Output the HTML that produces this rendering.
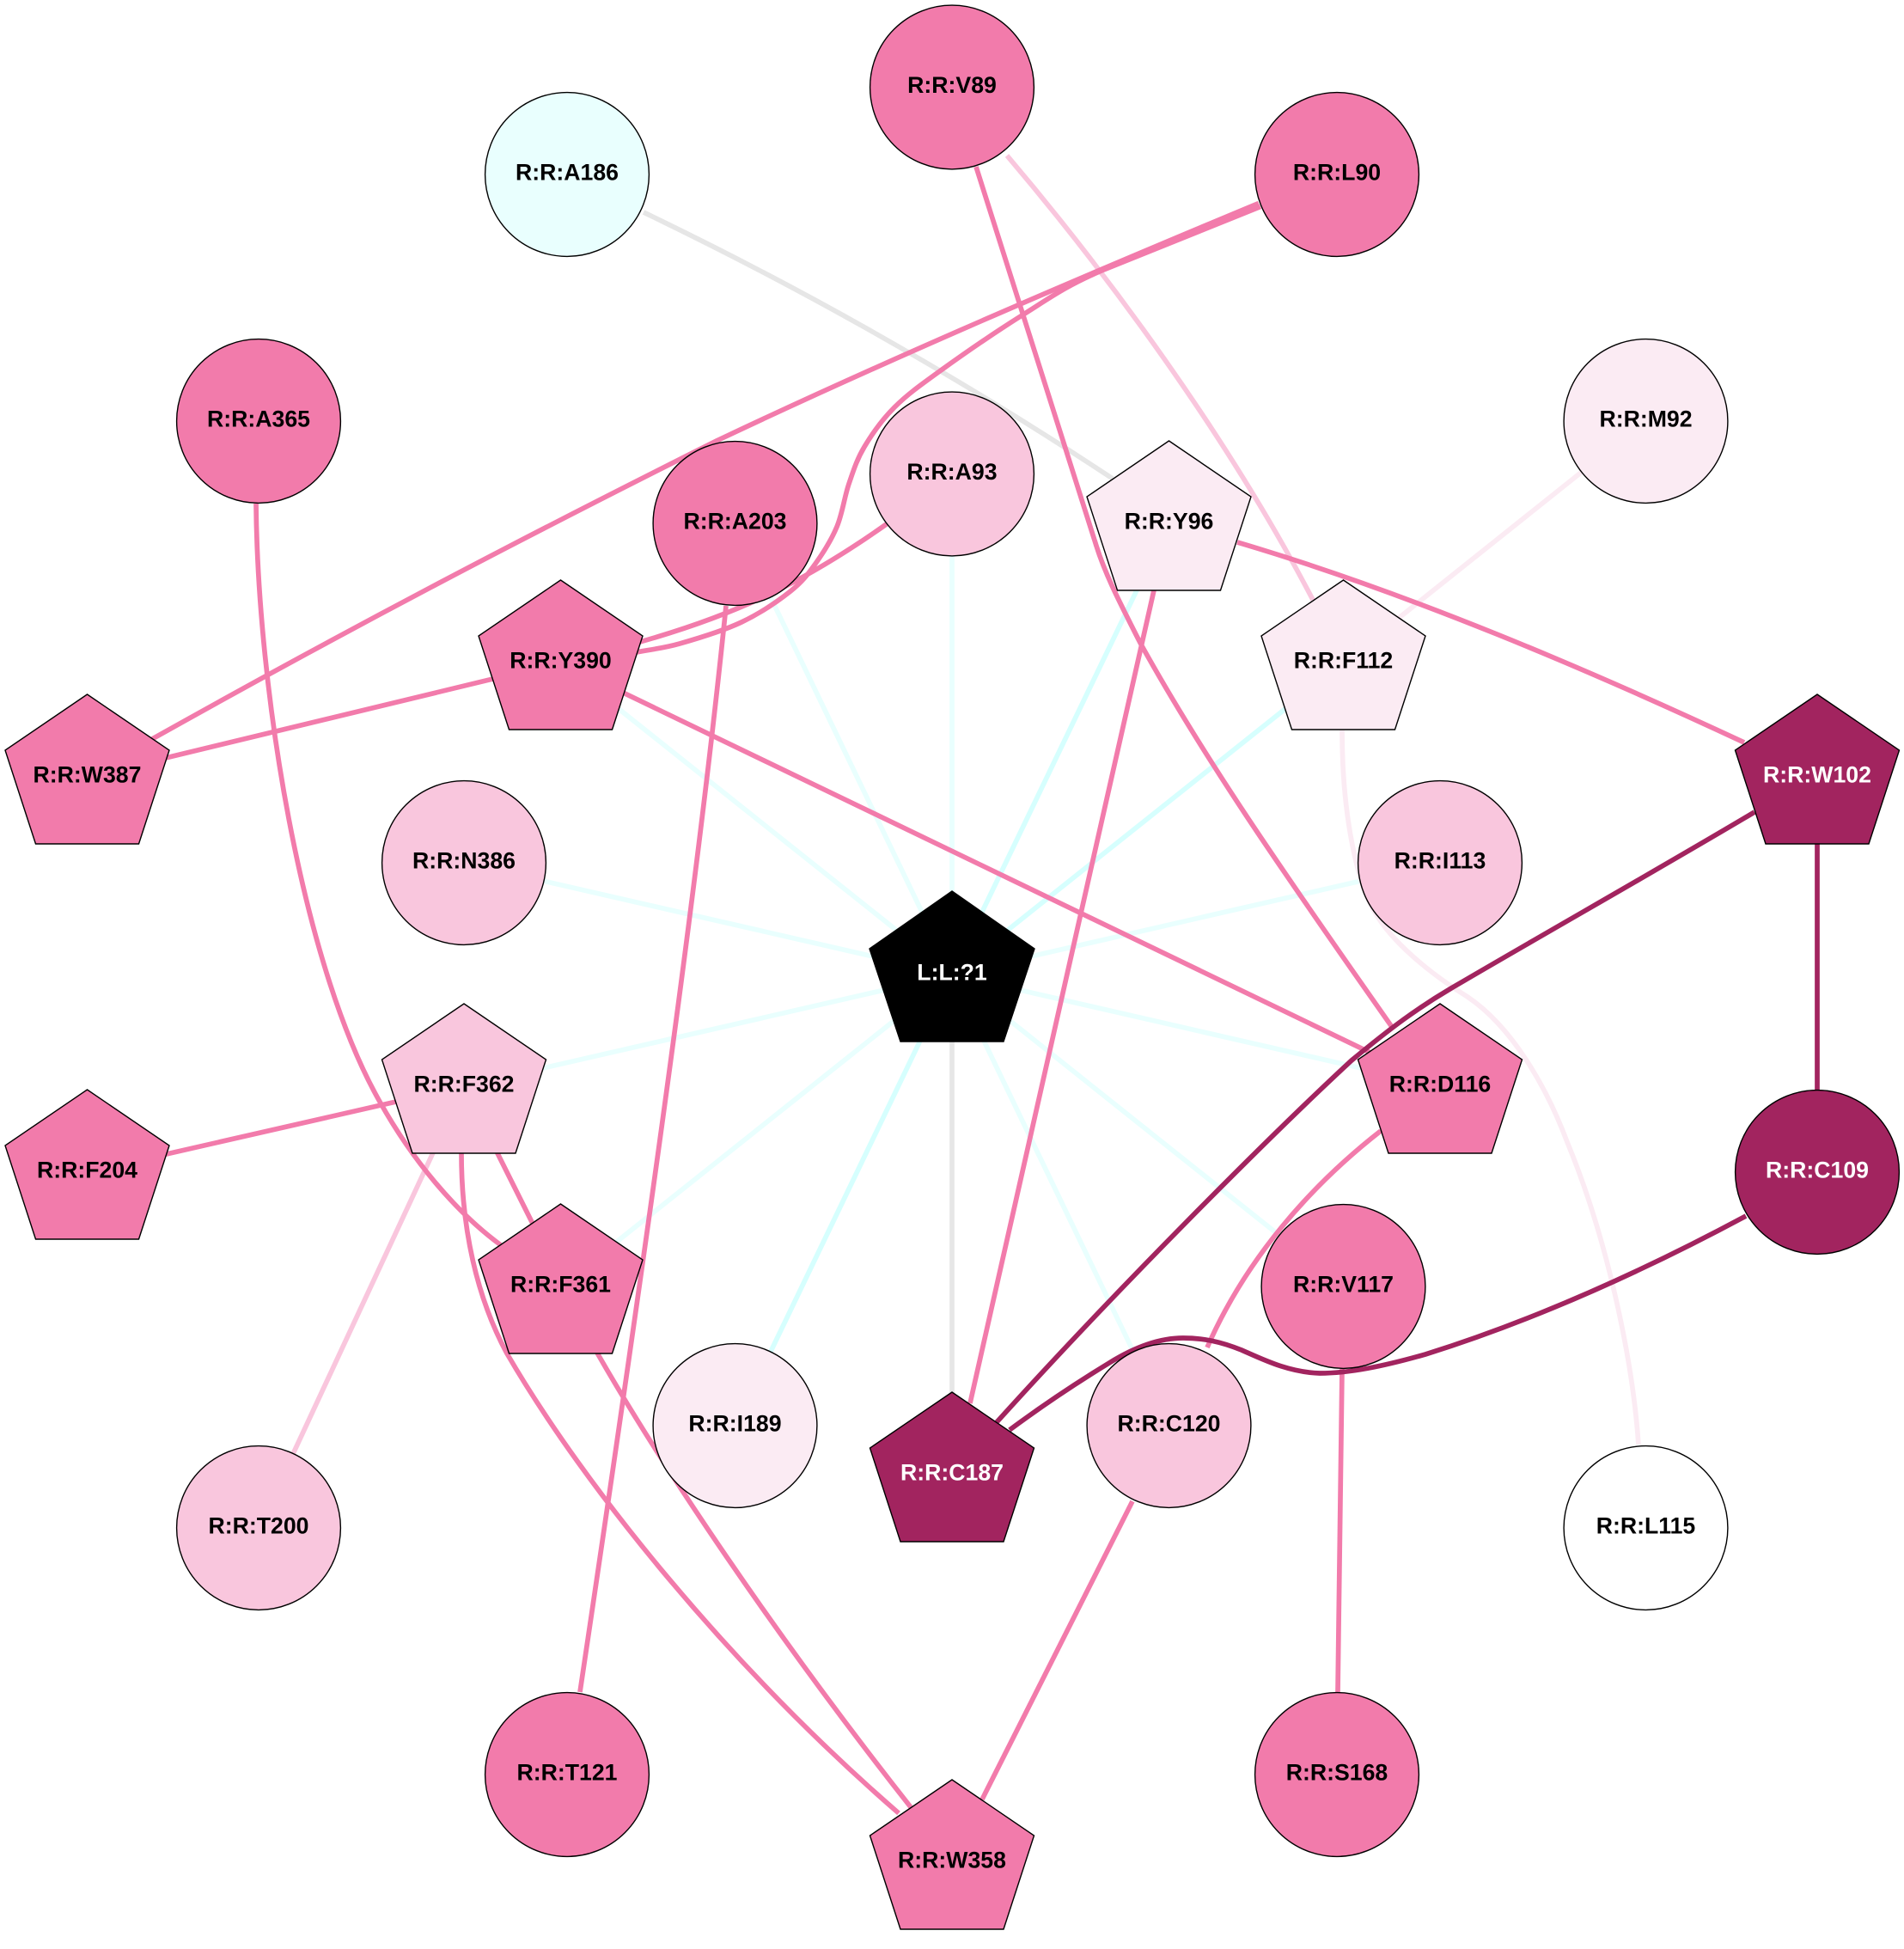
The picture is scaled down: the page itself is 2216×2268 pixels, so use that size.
<!DOCTYPE html>
<html>
<head>
<meta charset="utf-8">
<style>
html,body{margin:0;padding:0;background:#fff;}
svg{display:block;}
text{font-family:"Liberation Sans",Arial,sans-serif;font-weight:bold;font-size:26.67px;text-anchor:middle;fill:#000;}
text.w{fill:#fff;}
circle,polygon{stroke:#000;stroke-width:1.4;}
path,line{fill:none;stroke-width:5.7;}
.c{stroke:#E9FFFE;}
.s{stroke:#D6FFFE;}
.g{stroke:#E6E6E6;}
.p{stroke:#F27BAB;}
.l{stroke:#F9C6DD;}
.v{stroke:#FBEBF3;}
.d{stroke:#A2245F;}
</style>
</head>
<body>
<svg width="2216" height="2268" viewBox="0 0 2216 2268" xmlns="http://www.w3.org/2000/svg">
<rect width="2216" height="2268" fill="#fff"/>
<g>
<line class="c" x1="1108" y1="1134" x2="855.5" y2="609"/>
<line class="c" x1="1108" y1="1134" x2="1108" y2="551.5"/>
<line class="s" x1="1108" y1="1134" x2="1360.5" y2="609"/>
<line class="s" x1="1108" y1="1134" x2="1563.5" y2="771"/>
<line class="c" x1="1108" y1="1134" x2="652.5" y2="771"/>
<line class="c" x1="1108" y1="1134" x2="1676" y2="1004"/>
<line class="c" x1="1108" y1="1134" x2="540" y2="1004"/>
<line class="c" x1="1108" y1="1134" x2="540" y2="1264"/>
<line class="c" x1="1108" y1="1134" x2="652.5" y2="1497"/>
<line class="s" x1="1108" y1="1134" x2="855.5" y2="1659"/>
<line class="c" x1="1108" y1="1134" x2="1563.5" y2="1497"/>
<line class="c" x1="1108" y1="1134" x2="1360.5" y2="1659"/>
<line class="c" x1="1108" y1="1134" x2="1676" y2="1264"/>
<line class="g" x1="1108" y1="1134" x2="1108" y2="1716"/>
<path class="g" d="M749,247 Q1030,382 1295,557"/>
<path class="l" d="M1172,181 C1290,320 1430,510 1528,698"/>
<path class="v" d="M1915,490 L1563,771"/>
<path class="v" d="M1562,850 C1562,950 1580,1030 1601,1063 C1620,1095 1660,1130 1708,1160 C1760,1195 1800,1265 1824,1329 C1870,1440 1900,1580 1907,1681"/>
<path class="l" d="M540,1264 L301,1778"/>
<path class="p" d="M1136,194 L1275,632 C1285,665 1300,695 1327,748 C1400,880 1490,1010 1620,1195"/>
<path class="p" d="M1465,236.5 C1250,326 1030,420 834,513 C600,630 400,735 177,860"/>
<path class="p" d="M1467,240.5 L1282,315 C1240,333 1221.8,346.7 1191,366 C1160.2,385.3 1120,413 1095,431 C1070,449 1055.8,459.2 1041,474 C1026.2,488.8 1014.8,505.2 1006,520 C997.2,534.8 993.3,547.5 988,563 C982.7,578.5 980.5,597.5 974,613 C967.5,628.5 958,643.5 949,656 C940,668.5 934.3,676.7 920,688 C905.7,699.3 884.5,713.8 863,724 C841.5,734.2 811.3,743.2 791,749 C770.7,754.8 749,757 741,759"/>
<path class="p" d="M1033,609 C940,675 860,715 741,748"/>
<path class="p" d="M652.5,771 L101.5,904"/>
<path class="p" d="M652.5,771 L1676,1264"/>
<path class="p" d="M845,705 C815,1000 760,1400 675,1969"/>
<path class="p" d="M298,586 C300,800 350,1120 442,1282 C480,1350 530,1410 583,1449"/>
<path class="p" d="M540,1264 L101.5,1364"/>
<path class="p" d="M540,1264 L696,1576 C770,1705 900,1900 1060,2103"/>
<path class="p" d="M537,1342 C537,1430 555,1510 590,1575 C680,1730 850,1940 1046,2110"/>
<path class="p" d="M1318,1747 L1143,2094"/>
<path class="p" d="M1607,1316 C1525,1380 1450,1465 1405,1568"/>
<path class="p" d="M1562,1593 L1557,1969"/>
<path class="p" d="M1440,631 C1640,690 1850,780 2030,864"/>
<path class="p" d="M1343,687 L1129,1633"/>
<path class="d" d="M2115,904 L2115,1364"/>
<path class="d" d="M2042,945 C1950,1000 1800,1085 1689,1150 C1650,1173 1620,1195 1573,1234 C1480,1320 1300,1500 1160,1655"/>
<path class="d" d="M2032,1415 C1920,1475 1790,1535 1659,1576 C1610,1590 1570,1598 1536,1598 C1500,1597 1470,1582 1445,1571 C1420,1561 1400,1557 1377,1557 C1350,1557 1320,1568 1291,1586 C1250,1611 1210,1638 1175,1664"/>
</g>
<g>
<circle cx="1108" cy="101.5" r="95.4" fill="#F27BAB"/><text x="1108" y="108">R:R:V89</text>
<circle cx="660" cy="203" r="95.4" fill="#E9FFFE"/><text x="660" y="209.5">R:R:A186</text>
<circle cx="1556" cy="203" r="95.4" fill="#F27BAB"/><text x="1556" y="209.5">R:R:L90</text>
<circle cx="301" cy="490" r="95.4" fill="#F27BAB"/><text x="301" y="496.5">R:R:A365</text>
<circle cx="1915.5" cy="490" r="95.4" fill="#FBEBF3"/><text x="1915.5" y="496.5">R:R:M92</text>
<circle cx="855.5" cy="609" r="95.4" fill="#F27BAB"/><text x="855.5" y="615.5">R:R:A203</text>
<circle cx="1108" cy="551.5" r="95.4" fill="#F9C6DD"/><text x="1108" y="558">R:R:A93</text>
<polygon transform="translate(1360.5,609)" points="0,-96 95.5,-31 60,78 -60,78 -95.5,-31" fill="#FBEBF3"/><text x="1360.5" y="615.5">R:R:Y96</text>
<polygon transform="translate(652.5,771)" points="0,-96 95.5,-31 60,78 -60,78 -95.5,-31" fill="#F27BAB"/><text x="652.5" y="777.5">R:R:Y390</text>
<polygon transform="translate(1563.5,771)" points="0,-96 95.5,-31 60,78 -60,78 -95.5,-31" fill="#FBEBF3"/><text x="1563.5" y="777.5">R:R:F112</text>
<polygon transform="translate(101.5,904)" points="0,-96 95.5,-31 60,78 -60,78 -95.5,-31" fill="#F27BAB"/><text x="101.5" y="910.5">R:R:W387</text>
<polygon transform="translate(2115,904)" points="0,-96 95.5,-31 60,78 -60,78 -95.5,-31" fill="#A2245F"/><text class="w" x="2115" y="910.5">R:R:W102</text>
<circle cx="540" cy="1004" r="95.4" fill="#F9C6DD"/><text x="540" y="1010.5">R:R:N386</text>
<circle cx="1676" cy="1004" r="95.4" fill="#F9C6DD"/><text x="1676" y="1010.5">R:R:I113</text>
<polygon transform="translate(1108,1134)" points="0,-97 96,-30 60,78 -60,78 -96,-30" fill="#000"/><text class="w" x="1108" y="1140.5">L:L:?1</text>
<polygon transform="translate(540,1264)" points="0,-96 95.5,-31 60,78 -60,78 -95.5,-31" fill="#F9C6DD"/><text x="540" y="1270.5">R:R:F362</text>
<polygon transform="translate(1676,1264)" points="0,-96 95.5,-31 60,78 -60,78 -95.5,-31" fill="#F27BAB"/><text x="1676" y="1270.5">R:R:D116</text>
<polygon transform="translate(101.5,1364)" points="0,-96 95.5,-31 60,78 -60,78 -95.5,-31" fill="#F27BAB"/><text x="101.5" y="1370.5">R:R:F204</text>
<circle cx="2115" cy="1364" r="95.4" fill="#A2245F"/><text class="w" x="2115" y="1370.5">R:R:C109</text>
<polygon transform="translate(652.5,1497)" points="0,-96 95.5,-31 60,78 -60,78 -95.5,-31" fill="#F27BAB"/><text x="652.5" y="1503.5">R:R:F361</text>
<circle cx="1563.5" cy="1497" r="95.4" fill="#F27BAB"/><text x="1563.5" y="1503.5">R:R:V117</text>
<circle cx="855.5" cy="1659" r="95.4" fill="#FBEBF3"/><text x="855.5" y="1665.5">R:R:I189</text>
<circle cx="1360.5" cy="1659" r="95.4" fill="#F9C6DD"/><text x="1360.5" y="1665.5">R:R:C120</text>
<polygon transform="translate(1108,1716)" points="0,-96 95.5,-31 60,78 -60,78 -95.5,-31" fill="#A2245F"/><text class="w" x="1108" y="1722.5">R:R:C187</text>
<circle cx="301" cy="1778" r="95.4" fill="#F9C6DD"/><text x="301" y="1784.5">R:R:T200</text>
<circle cx="1915.5" cy="1778" r="95.4" fill="#FFFFFF"/><text x="1915.5" y="1784.5">R:R:L115</text>
<circle cx="660" cy="2065" r="95.4" fill="#F27BAB"/><text x="660" y="2071.5">R:R:T121</text>
<circle cx="1556" cy="2065" r="95.4" fill="#F27BAB"/><text x="1556" y="2071.5">R:R:S168</text>
<polygon transform="translate(1108,2167)" points="0,-96 95.5,-31 60,78 -60,78 -95.5,-31" fill="#F27BAB"/><text x="1108" y="2173.5">R:R:W358</text>
</g>
</svg>
</body>
</html>
